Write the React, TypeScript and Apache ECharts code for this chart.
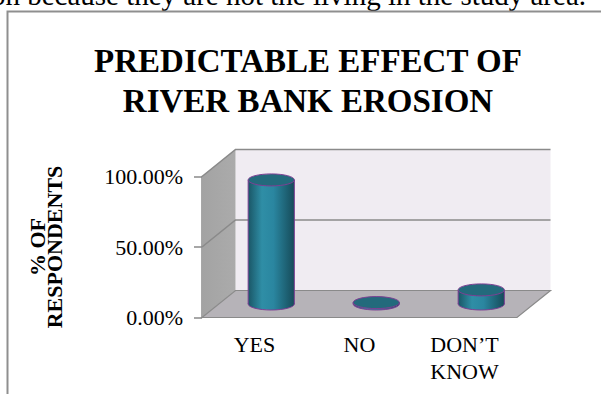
import React, { useEffect, useRef } from "react";
import * as echarts from "echarts";

// Survey answers and their share of respondents
const categories = ["YES", "NO", "DON\u2019T\nKNOW"];
const shares = [0.88, 0.01, 0.1];
const yGridValues = [0.5, 1];
const chartTitle = ["PREDICTABLE EFFECT OF", "RIVER BANK EROSION"];
const axisTitle = ["% OF", "RESPONDENTS"];
const runningText = "on because they are not the living in the study area.";

const SERIF = '"Liberation Serif", "Times New Roman", serif';
// Perspective offset of the back plane relative to the front plane
const DEPTH_X = 33.5;
const DEPTH_Y = -27;
const OUTLINE = "#7d3f93";
const EDGE = "#8a8a8a";

export default function App() {
  const ref = useRef<HTMLDivElement>(null);

  useEffect(() => {
    if (!ref.current) return;
    const chart = echarts.init(ref.current, undefined, { renderer: "svg" });

    const wallsRender = (params: any, api: any) => {
      const cs = params.coordSys;
      const L = cs.x;
      const R = cs.x + cs.width;
      const T = cs.y;
      const B = cs.y + cs.height;
      const children: any[] = [
        {
          type: "polygon",
          shape: {
            points: [
              [L + DEPTH_X, T + DEPTH_Y],
              [R + DEPTH_X, T + DEPTH_Y],
              [R + DEPTH_X, B + DEPTH_Y],
              [L + DEPTH_X, B + DEPTH_Y],
            ],
          },
          style: { fill: "#f0ecf2" },
        },
        {
          type: "polygon",
          shape: {
            points: [
              [L, T],
              [L + DEPTH_X, T + DEPTH_Y],
              [L + DEPTH_X, B + DEPTH_Y],
              [L, B],
            ],
          },
          style: {
            fill: new echarts.graphic.LinearGradient(0, 0, 1, 0, [
              { offset: 0, color: "#a3a3a3" },
              { offset: 1, color: "#ababab" },
            ]),
          },
        },
        {
          type: "polygon",
          shape: {
            points: [
              [L, B],
              [L + DEPTH_X, B + DEPTH_Y],
              [R + DEPTH_X, B + DEPTH_Y],
              [R, B],
            ],
          },
          style: { fill: "#b6b3b8", stroke: EDGE, lineWidth: 1.2 },
        },
      ];
      yGridValues.forEach((v) => {
        const y = api.coord([0, v])[1];
        children.push({
          type: "polyline",
          shape: {
            points: [
              [L, y],
              [L + DEPTH_X, y + DEPTH_Y],
              [R + DEPTH_X, y + DEPTH_Y],
            ],
          },
          style: { stroke: EDGE, lineWidth: 1.6, fill: "none" },
        });
      });
      return { type: "group", children };
    };

    const cylinderRender = (params: any, api: any) => {
      const i = api.value(0);
      const v = api.value(1);
      const base = api.coord([i, 0]);
      const top = api.coord([i, v]);
      const band = api.size([1, 0])[0];
      const rx = band * 0.22;
      const ry = 6;
      const cx = base[0] + DEPTH_X / 2;
      const by = base[1] + DEPTH_Y / 2;
      const ty = top[1] + DEPTH_Y / 2;
      const body = new echarts.graphic.LinearGradient(0, 0, 1, 0, [
        { offset: 0, color: "#1a5666" },
        { offset: 0.3, color: "#2f8ea6" },
        { offset: 0.55, color: "#2a86a0" },
        { offset: 1, color: "#164b59" },
      ]);
      return {
        type: "group",
        children: [
          {
            type: "ellipse",
            shape: { cx, cy: by, rx, ry },
            style: { fill: body, stroke: OUTLINE, lineWidth: 1 },
          },
          {
            type: "rect",
            shape: { x: cx - rx, y: ty, width: 2 * rx, height: Math.max(by - ty, 0) },
            style: { fill: body },
          },
          {
            type: "line",
            shape: { x1: cx - rx, y1: ty, x2: cx - rx, y2: by },
            style: { stroke: OUTLINE, lineWidth: 1 },
          },
          {
            type: "line",
            shape: { x1: cx + rx, y1: ty, x2: cx + rx, y2: by },
            style: { stroke: OUTLINE, lineWidth: 1 },
          },
          {
            type: "ellipse",
            shape: { cx, cy: ty, rx, ry },
            style: { fill: "#236a7c", stroke: OUTLINE, lineWidth: 1 },
          },
        ],
      };
    };

    chart.setOption({
      animation: false,
      backgroundColor: "#ffffff",
      grid: {
        left: 202,
        right: 84,
        top: 176.5,
        bottom: 76.5,
        containLabel: false,
        outerBoundsMode: "none",
      },
      graphic: [
        {
          type: "text",
          x: 586,
          y: -5,
          style: {
            text: runningText,
            fontFamily: SERIF,
            fontSize: 29,
            fill: "#000",
            align: "right",
            verticalAlign: "middle",
          },
        },
        {
          type: "polyline",
          shape: {
            points: [
              [7.5, 394],
              [7.5, 11.5],
              [601, 11.5],
            ],
          },
          style: { stroke: "#8f8f8f", lineWidth: 2, fill: "none" },
        },
        {
          type: "text",
          x: 308,
          y: 81,
          style: {
            text: chartTitle.join("\n"),
            fontFamily: SERIF,
            fontSize: 33,
            fontWeight: "bold",
            lineHeight: 40,
            fill: "#000",
            align: "center",
            verticalAlign: "middle",
          },
        },
      ],
      xAxis: {
        type: "category",
        data: categories,
        axisLine: { show: false },
        axisTick: { show: false },
        splitLine: { show: false },
        axisLabel: {
          margin: 13,
          fontFamily: SERIF,
          fontSize: 22,
          lineHeight: 27,
          color: "#000",
          interval: 0,
        },
      },
      yAxis: {
        type: "value",
        min: 0,
        max: 1,
        interval: 0.5,
        name: axisTitle.join("\n"),
        nameLocation: "middle",
        nameGap: 139,
        nameTextStyle: {
          fontFamily: SERIF,
          fontSize: 22,
          fontWeight: "bold",
          lineHeight: 17,
          color: "#000",
        },
        axisLine: { show: true, lineStyle: { color: EDGE, width: 1.5 } },
        axisTick: { show: true, length: 8, lineStyle: { color: EDGE, width: 1.5 } },
        splitLine: { show: false },
        axisLabel: {
          margin: 19,
          fontFamily: SERIF,
          fontSize: 22,
          color: "#000",
          formatter: (v: number) => `${(v * 100).toFixed(2)}%`,
        },
      },
      series: [
        {
          type: "custom",
          z: 1,
          silent: true,
          data: [[0, 0]],
          renderItem: wallsRender,
        },
        {
          type: "custom",
          z: 2,
          data: shares.map((v, i) => [i, v]),
          renderItem: cylinderRender,
        },
      ],
    });

    return () => chart.dispose();
  }, []);

  return (
    <div
      ref={ref}
      style={{ position: "absolute", left: 0, top: 0, width: 601, height: 394 }}
    />
  );
}
